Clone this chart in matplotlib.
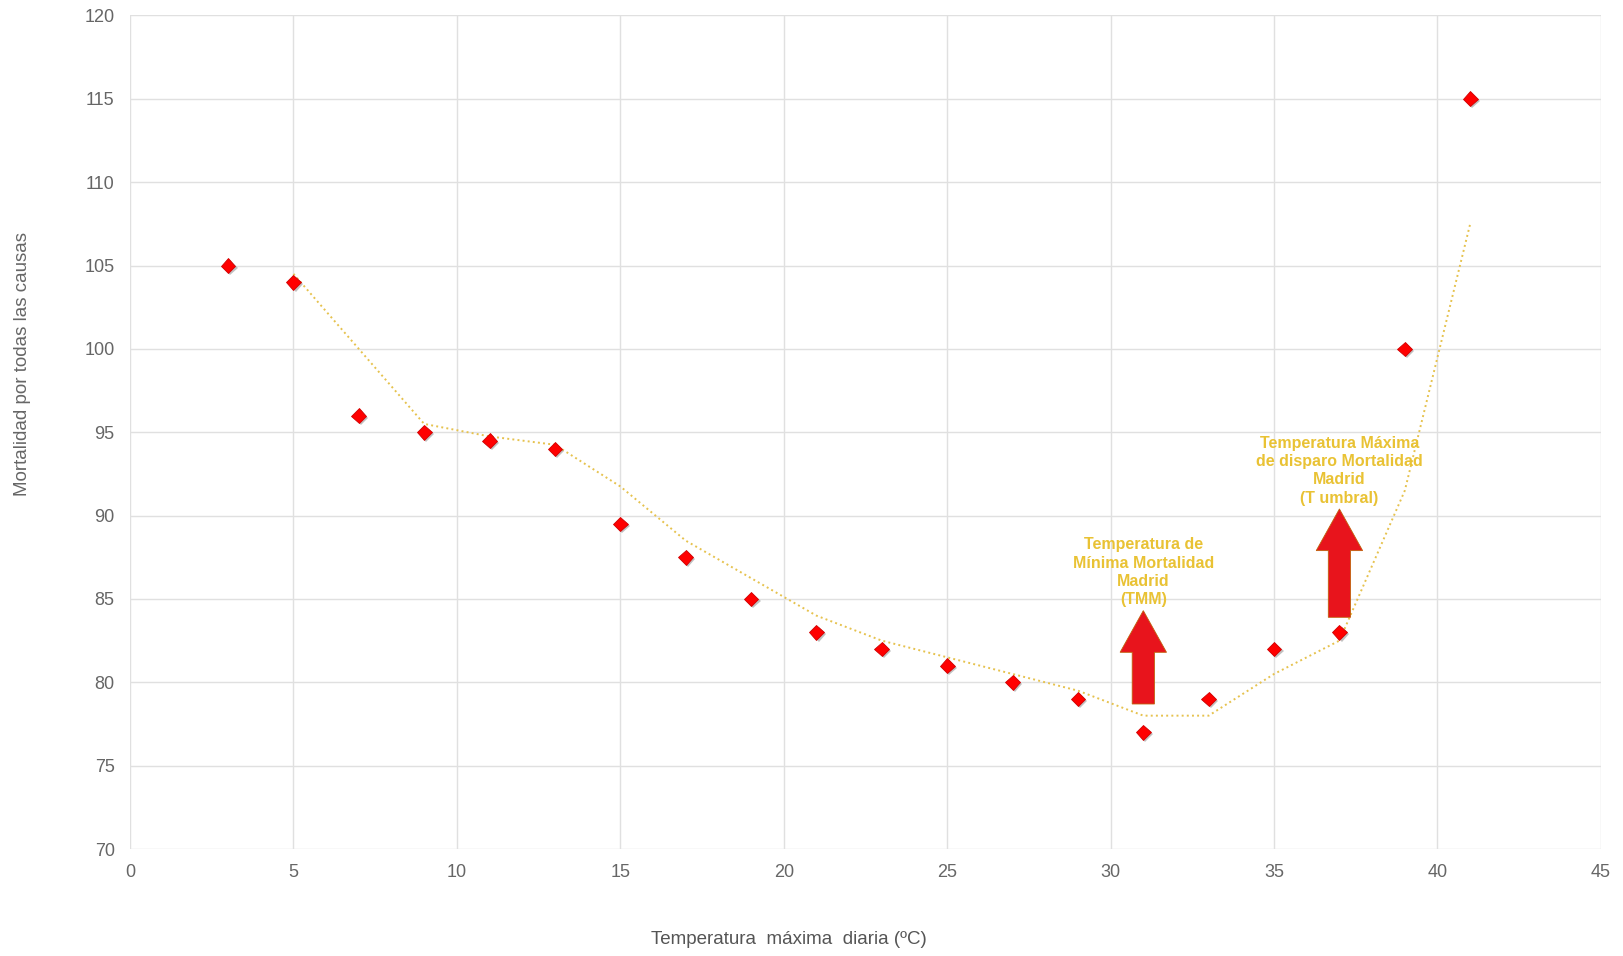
import matplotlib.pyplot as plt
import matplotlib.patheffects as pe
from matplotlib.patches import FancyArrow

plt.rcParams['font.family'] = ['Liberation Sans', 'DejaVu Sans']

# Data
temperatura = [3, 5, 7, 9, 11, 13, 15, 17, 19, 21, 23, 25, 27, 29, 31, 33, 35, 37, 39, 41]
mortalidad = [105, 104, 96, 95, 94.5, 94, 89.5, 87.5, 85, 83, 82, 81, 80, 79, 77, 79, 82, 83, 100, 115]

# Dotted trend line (moving average)
tendencia_x = [5, 7, 9, 11, 13, 15, 17, 19, 21, 23, 25, 27, 29, 31, 33, 35, 37, 39, 41]
tendencia_y = [104.5, 100, 95.5, 94.75, 94.25, 91.75, 88.5, 86.25, 84, 82.5, 81.5, 80.5,
               79.5, 78, 78, 80.5, 82.5, 91.5, 107.5]

# Arrows: x position, tail y, tip y
flechas_x = [31, 37]
flechas_base = [78.7, 83.9]
flechas_punta = [84.3, 90.4]

textos = ["Temperatura de\nMínima Mortalidad\nMadrid\n(TMM)",
          "Temperatura Máxima\nde disparo Mortalidad\nMadrid\n(T umbral)"]
textos_y = [84.5, 90.6]

fig = plt.figure(figsize=(16.23, 9.56), dpi=100)
ax = fig.add_axes([0.0801, 0.1119, 0.9063, 0.8719])

ax.plot(tendencia_x, tendencia_y, linestyle=':', color='#E6C24E', lw=1.4, zorder=2)

ax.plot(temperatura, mortalidad, linestyle='none', marker='D', markersize=7.5,
        color='#FF0000', markeredgecolor='#D00000', markeredgewidth=0.6, zorder=4,
        path_effects=[pe.SimplePatchShadow(offset=(1.5, -1.5), shadow_rgbFace='#777777', alpha=0.45),
                      pe.Normal()])

for x, y0, y1 in zip(flechas_x, flechas_base, flechas_punta):
    ax.add_patch(FancyArrow(x, y0, 0, y1 - y0, width=0.68, head_width=1.42,
                            head_length=2.5, length_includes_head=True,
                            facecolor='#E8141C', edgecolor='#C0600B', lw=0.6, zorder=5))

for x, y, t in zip(flechas_x, textos_y, textos):
    ax.text(x, y, t, ha='center', va='bottom', color='#E9C234', fontsize=11.5,
            fontweight='bold', linespacing=1.28, zorder=6)

ax.set_xlim(0, 45)
ax.set_ylim(70, 120)
ax.set_xticks(range(0, 46, 5))
ax.set_yticks(range(70, 121, 5))
ax.grid(True, color='#E0E0E0', lw=1.0)
ax.set_axisbelow(True)
for s in ax.spines.values():
    s.set_visible(False)
ax.tick_params(length=0, pad=11, labelsize=13, labelcolor='#666666')

fig.text(23 / 1623, 1 - 364 / 956, "Mortalidad por todas las causas", rotation=90,
         ha='center', va='center', fontsize=13.5, color='#666666')
fig.text(789 / 1623, 1 - 940 / 956, "Temperatura  máxima  diaria (ºC)",
         ha='center', va='center', fontsize=13.5, color='#555555')

fig.savefig("out.png", dpi=100, facecolor='white')
